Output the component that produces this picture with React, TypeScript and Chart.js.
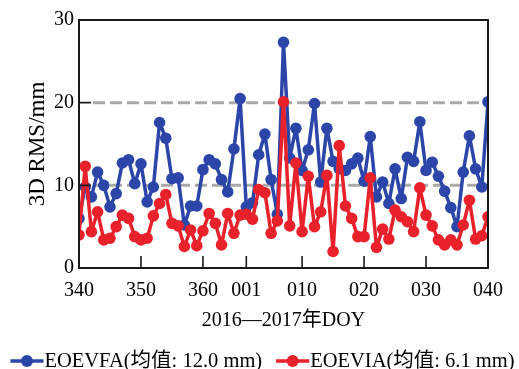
import { useEffect, useRef } from 'react';
import { Chart, registerables } from 'chart.js';

Chart.register(...registerables);

const FONT = '"Liberation Serif", "Times New Roman", "Noto Sans CJK SC", serif';

// Day-of-year axis: daily samples from 2016 DOY 340 to 2017 DOY 040 (2016 is a leap year)
const startDoy = 340;
const daysIn2016 = 366;
const tickDoys = [340, 350, 360, 1, 10, 20, 30, 40];
const tickLabels = ['340', '350', '360', '001', '010', '020', '030', '040'];
const yTickValues = [0, 10, 20, 30];
const referenceLevels = [10, 20];

// Daily 3D RMS (mm)
const eoevfaRms = [
  6.0, 9.8, 8.6, 11.6, 10.0, 7.4, 9.0, 12.7, 13.1, 10.2,
  12.6, 8.0, 9.8, 17.6, 15.7, 10.8, 10.9, 5.2, 7.5, 7.5,
  11.9, 13.1, 12.6, 10.7, 9.2, 14.4, 20.5, 7.4, 7.9, 13.7,
  16.2, 10.7, 6.5, 27.3, 13.3, 16.9, 11.8, 14.3, 19.9, 10.4,
  16.9, 12.9, 12.0, 11.8, 12.6, 13.3, 10.5, 15.9, 8.6, 10.4,
  7.8, 12.0, 8.4, 13.4, 12.9, 17.7, 11.8, 12.8, 11.1, 9.3,
  7.3, 5.0, 11.6, 16.0, 12.0, 9.8, 20.1,
];
const eoeviaRms = [
  4.0, 12.3, 4.4, 6.8, 3.4, 3.6, 5.0, 6.4, 6.0, 3.8,
  3.4, 3.6, 6.3, 7.8, 8.9, 5.4, 5.1, 2.6, 4.6, 2.7,
  4.5, 6.6, 5.4, 2.8, 6.6, 4.2, 6.4, 6.5, 5.9, 9.5,
  9.1, 4.2, 5.7, 20.1, 5.1, 12.7, 4.4, 11.1, 5.0, 6.8,
  11.2, 2.0, 14.8, 7.5, 6.0, 3.8, 3.8, 10.9, 2.5, 4.7,
  3.5, 7.0, 6.2, 5.6, 4.4, 9.7, 6.4, 5.1, 3.4, 2.8,
  3.4, 2.8, 5.2, 8.2, 3.5, 3.9, 6.2,
];

const seriesNames = ['EOEVFA(均值: 12.0 mm)', 'EOEVIA(均值: 6.1 mm)'];
const seriesColors = ['#2b46a8', '#e8212b'];

const dayOffset = (doy: number) =>
  doy >= startDoy ? doy - startDoy : doy + daysIn2016 - startDoy;

const tickOffsets = tickDoys.map(dayOffset);

// Gray dashed reference levels, box frame with inward ticks, and a line+dot key
const decorations = {
  id: 'decorations',
  beforeDatasetsDraw(chart: any) {
    const { ctx, chartArea: a, scales } = chart;
    ctx.save();
    ctx.strokeStyle = '#aaaaaa';
    ctx.lineWidth = 3;
    ctx.setLineDash([12, 5]);
    referenceLevels.forEach((v) => {
      const py = scales.y.getPixelForValue(v);
      ctx.beginPath();
      ctx.moveTo(a.left + 14, py);
      ctx.lineTo(a.right - 1, py);
      ctx.stroke();
    });
    ctx.restore();
  },
  afterDatasetsDraw(chart: any) {
    const { ctx, chartArea: a, scales } = chart;
    ctx.save();
    ctx.strokeStyle = '#1a1a1a';
    ctx.lineWidth = 1.6;
    ctx.beginPath();
    scales.y.ticks.forEach((t: any) => {
      const py = scales.y.getPixelForValue(t.value);
      ctx.moveTo(a.left, py);
      ctx.lineTo(a.left + 12, py);
    });
    scales.x.ticks.forEach((t: any) => {
      const px = scales.x.getPixelForValue(t.value);
      ctx.moveTo(px, a.bottom);
      ctx.lineTo(px, a.bottom - 12);
    });
    ctx.stroke();
    ctx.lineWidth = 2;
    ctx.strokeRect(a.left, a.top, a.right - a.left, a.bottom - a.top);
    ctx.restore();
  },
  afterDraw(chart: any) {
    const { ctx } = chart;
    const sets = chart.data.datasets;
    const sym = 33;
    const gap = 1;
    const between = 14;
    const cy = 361;
    ctx.save();
    ctx.font = `20.5px ${FONT}`;
    const widths = sets.map((d: any) => ctx.measureText(d.label).width);
    const total =
      widths.reduce((s: number, w: number) => s + sym + gap + w, 0) + between * (sets.length - 1);
    let x = 262.5 - total / 2;
    sets.forEach((d: any, i: number) => {
      ctx.strokeStyle = d.borderColor;
      ctx.fillStyle = d.borderColor;
      ctx.lineWidth = 3.5;
      ctx.beginPath();
      ctx.moveTo(x, cy);
      ctx.lineTo(x + sym, cy);
      ctx.stroke();
      ctx.beginPath();
      ctx.arc(x + sym / 2, cy, 6, 0, Math.PI * 2);
      ctx.fill();
      ctx.fillStyle = '#000';
      ctx.textBaseline = 'middle';
      ctx.textAlign = 'left';
      ctx.fillText(d.label, x + sym + gap, cy + 1);
      x += sym + gap + widths[i] + between;
    });
    ctx.restore();
  },
};

export default function App() {
  const canvasRef = useRef<HTMLCanvasElement | null>(null);

  useEffect(() => {
    const canvas = canvasRef.current;
    if (!canvas) return;
    const series = [eoevfaRms, eoeviaRms];
    const chart = new Chart(canvas, {
      type: 'line',
      data: {
        datasets: series.map((vals, i) => ({
          label: seriesNames[i],
          data: vals.map((v, day) => ({ x: day, y: v })),
          borderColor: seriesColors[i],
          backgroundColor: seriesColors[i],
          pointBackgroundColor: seriesColors[i],
          pointBorderColor: seriesColors[i],
          borderWidth: 3.5,
          borderJoinStyle: 'round' as const,
          borderCapStyle: 'round' as const,
          pointRadius: 5.8,
          pointBorderWidth: 0,
          tension: 0,
          order: i === 0 ? 2 : 1,
        })),
      },
      options: {
        responsive: false,
        animation: false,
        layout: { padding: { top: 20, right: 31, left: 0, bottom: 36 } },
        plugins: {
          legend: { display: false },
          tooltip: { enabled: false },
        },
        scales: {
          x: {
            type: 'linear',
            min: 0,
            max: dayOffset(40),
            afterBuildTicks: (scale: any) => {
              scale.ticks = tickOffsets.map((v) => ({ value: v }));
            },
            afterFit: (scale: any) => {
              scale.height = 65;
            },
            grid: { display: false, drawTicks: false },
            border: { display: false },
            ticks: {
              autoSkip: false,
              maxRotation: 0,
              padding: 11,
              color: '#000',
              font: { family: FONT, size: 20 },
              callback: (value: any) => {
                const k = tickOffsets.indexOf(Number(value));
                return k >= 0 ? tickLabels[k] : '';
              },
            },
            title: {
              display: true,
              text: '2016—2017年DOY',
              color: '#000',
              font: { family: FONT, size: 20 },
              padding: { top: 0, bottom: 0 },
            },
          },
          y: {
            min: 0,
            max: 30,
            afterBuildTicks: (scale: any) => {
              scale.ticks = yTickValues.map((v) => ({ value: v }));
            },
            afterFit: (scale: any) => {
              scale.width = 79;
            },
            grid: { display: false, drawTicks: false },
            border: { display: false },
            ticks: {
              padding: 5,
              color: '#000',
              font: { family: FONT, size: 20 },
            },
            title: {
              display: true,
              text: '3D RMS/mm',
              color: '#000',
              font: { family: FONT, size: 23 },
              padding: { top: 24, bottom: 0 },
            },
          },
        },
      },
      plugins: [decorations],
    });
    return () => chart.destroy();
  }, []);

  return (
    <div style={{ position: 'absolute', left: 0, top: 0, width: 519, height: 369, background: '#fff' }}>
      <canvas ref={canvasRef} width={519} height={369} style={{ display: 'block' }} />
    </div>
  );
}
